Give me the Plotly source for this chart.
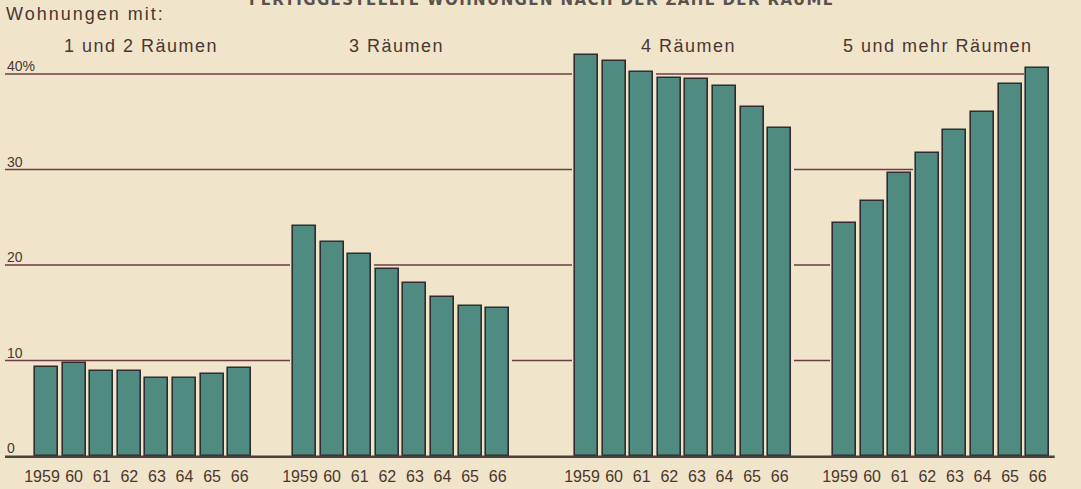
import plotly.graph_objects as go

# ---- data ----
years = ["1959", "60", "61", "62", "63", "64", "65", "66"]
group_labels = ["1 und 2 Räumen", "3 Räumen", "4 Räumen", "5 und mehr Räumen"]
share_1_2 = [9.3, 9.7, 8.9, 8.9, 8.2, 8.2, 8.6, 9.2]
share_3 = [24.1, 22.4, 21.2, 19.6, 18.1, 16.6, 15.7, 15.5]
share_4 = [42.0, 41.4, 40.2, 39.6, 39.5, 38.7, 36.5, 34.3]
share_5plus = [24.4, 26.7, 29.6, 31.7, 34.1, 36.0, 39.0, 40.6]
y_ticks = [0, 10, 20, 30, 40]
y_tick_labels = ["0", "10", "20", "30", "40%"]
title_text = "FERTIGGESTELLTE WOHNUNGEN NACH DER ZAHL DER RÄUME"
subtitle_text = "Wohnungen mit:"

series = [share_1_2, share_3, share_4, share_5plus]

# ---- layout geometry (pixel-like x units) ----
W, H = 1081, 489
group_start = [46.5, 304.5, 586.5, 844.5]
pitch = 27.6
bar_w = 23
px_per_unit = 9.55
base_px = 456
bottom_margin = 31
plot_h = H - bottom_margin
y_top = base_px / px_per_unit
y_bot = (base_px - plot_h) / px_per_unit

BG = "#f0e5ca"
BAR = "#4f8b81"
EDGE = "#2e2c30"
TXT = "#4b3631"
GRID = "#6f3b47"
FONT = "Liberation Sans, Arial, sans-serif"

fig = go.Figure()
tick_x, tick_lbl = [], []
for g, vals in enumerate(series):
    xs = [group_start[g] + i * pitch for i in range(len(vals))]
    # first (four-digit) year label sits slightly left of its bar, as in the original
    tick_x += [x - (4.5 if i == 0 else 0) for i, x in enumerate(xs)]
    tick_lbl += years
    # background halo that hides grid lines in the small gaps between bars
    fig.add_trace(go.Bar(x=xs, y=vals, width=pitch + 0.6, marker=dict(color=BG, line=dict(width=0)),
                         hoverinfo="skip", showlegend=False))
    fig.add_trace(go.Bar(x=xs, y=vals, width=bar_w, name=group_labels[g],
                         marker=dict(color=BAR, line=dict(color=EDGE, width=1.6)),
                         customdata=years, hovertemplate=group_labels[g] + " %{customdata}: %{y}%<extra></extra>",
                         showlegend=False))

shapes = []
grid_end = group_start[3] + 7 * pitch
for v in y_ticks[1:]:
    shapes.append(dict(type="line", xref="x", yref="y", x0=5, x1=grid_end, y0=v, y1=v,
                       line=dict(color=GRID, width=1.4), layer="below"))
shapes.append(dict(type="line", xref="x", yref="y", x0=5, x1=grid_end + 17, y0=-0.12, y1=-0.12,
                   line=dict(color="#4a403d", width=3.5), layer="above"))

annotations = []
for v, t in zip(y_ticks, y_tick_labels):
    annotations.append(dict(x=5, y=v, xref="x", yref="y", text=t, showarrow=False,
                            xanchor="left", yanchor="bottom", yshift=-2,
                            font=dict(family=FONT, size=14, color=TXT)))
group_centers = [141, 396, 688, 938]
for c, t in zip(group_centers, group_labels):
    annotations.append(dict(x=c, y=1, xref="x", yref="paper", yshift=-46,
                            text=f'<span style="letter-spacing:1.5px">{t}</span>',
                            showarrow=False, xanchor="center", yanchor="middle",
                            font=dict(family=FONT, size=18, color=TXT)))
annotations.append(dict(x=4, y=1, xref="x", yref="paper", yshift=-14,
                        text=f'<span style="letter-spacing:2px">{subtitle_text}</span>',
                        showarrow=False, xanchor="left", yanchor="middle",
                        font=dict(family=FONT, size=18, color=TXT)))
annotations.append(dict(x=542, y=1, xref="x", yref="paper", yshift=-11,
                        text=f'<b><span style="letter-spacing:1.4px">{title_text}</span></b>',
                        showarrow=False, xanchor="center", yanchor="bottom",
                        font=dict(family="DejaVu Sans, sans-serif", size=15, color="#5a524c")))

fig.update_layout(
    width=W, height=H,
    margin=dict(l=0, r=0, t=0, b=bottom_margin),
    paper_bgcolor=BG, plot_bgcolor=BG,
    barmode="overlay", bargap=0,
    shapes=shapes, annotations=annotations,
    xaxis=dict(range=[0, W], tickvals=tick_x, ticktext=tick_lbl, showgrid=False, zeroline=False,
               showline=False, ticks="", tickangle=0,
               tickfont=dict(family=FONT, size=16, color=TXT), ticklabelstandoff=7),
    yaxis=dict(range=[y_bot, y_top], showgrid=False, zeroline=False, showline=False, showticklabels=False),
)

fig.write_html("out.html", config={"displayModeBar": False},
               post_script="document.body.style.margin='0';")
